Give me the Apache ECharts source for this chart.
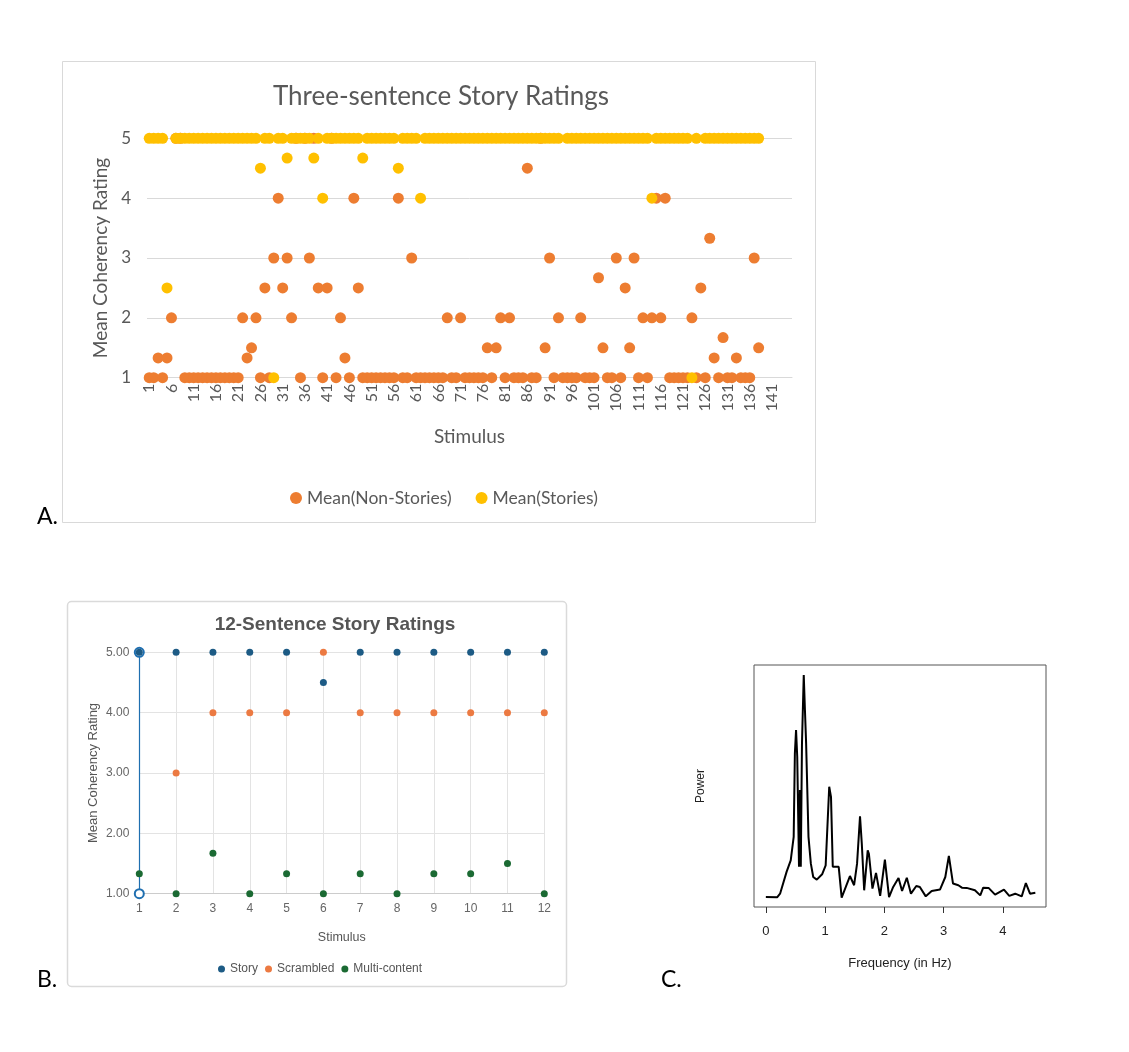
<!DOCTYPE html>
<html><head><meta charset="utf-8">
<script src="https://cdn.jsdelivr.net/npm/echarts@6/dist/echarts.min.js"></script>
<style>html,body{margin:0;padding:0;background:#fff}#c{width:1129px;height:1052px}</style>
</head><body><div id="c"></div>
<script>
// ---------- Panel A: Three-sentence story ratings (stimuli 1..138, axis 1..145) ----------
const stimulusCountA = 145;
const nonStories = [
  1,1,1.33,1,1.33,2,5,5,1,1,
  1,1,1,1,1,1,1,1,1,1,
  1,2,1.33,1.5,2,1,2.5,1,3,4,
  2.5,3,2,5,1,5,3,5,2.5,1,
  2.5,5,1,2,1.33,1,4,2.5,1,1,
  1,1,1,1,1,1,4,1,1,3,
  1,1,1,1,1,1,1,2,1,1,
  2,1,1,1,1,1,1.5,1,1.5,2,
  1,2,1,1,1,4.5,1,1,5,1.5,
  3,1,2,1,1,1,1,2,1,1,
  1,2.67,1.5,1,1,3,1,2.5,1.5,3,
  1,2,1,2,4,2,4,1,1,1,
  1,1,2,1,2.5,1,3.33,1.33,1,1.67,
  1,1,1.33,1,1,1,3,1.5
];
const stories = [
  5,5,5,5,2.5,'-',5,5,5,5,
  5,5,5,5,5,5,5,5,5,5,
  5,5,5,5,5,4.5,5,5,1,5,
  5,4.67,5,5,5,5,5,4.67,5,4,
  5,5,5,5,5,5,5,5,4.67,5,
  5,5,5,5,5,5,4.5,5,5,5,
  5,4,5,5,5,5,5,5,5,5,
  5,5,5,5,5,5,5,5,5,5,
  5,5,5,5,5,5,5,5,5,5,
  5,5,5,'-',5,5,5,5,5,5,
  5,5,5,5,5,5,5,5,5,5,
  5,5,5,4,5,5,5,5,5,5,
  5,5,1,5,'-',5,5,5,5,5,
  5,5,5,5,5,5,5,5
];
const categoriesA = Array.from({length: stimulusCountA}, (_, i) => String(i + 1));

// ---------- Panel B: 12-sentence story ratings ----------
const categoriesB = ['1','2','3','4','5','6','7','8','9','10','11','12'];
const storyB = [5,5,5,5,5,4.5,5,5,5,5,5,5];
const scrambledB = ['-',3,4,4,4,5,4,4,4,4,4,4];
const multiB = [1.33,1,1.67,1,1.33,1,1.33,1,1.33,1.33,1.5,1];

// ---------- Panel C: power spectrum ----------
const freqC = [0.00,0.19,0.24,0.35,0.42,0.47,0.49,0.51,0.53,0.56,0.575,0.59,0.61,0.64,0.66,0.68,0.72,0.76,0.80,0.86,0.95,1.01,1.07,1.10,1.13,1.23,1.28,1.35,1.42,1.49,1.54,1.59,1.62,1.66,1.72,1.74,1.80,1.86,1.93,2.01,2.08,2.15,2.24,2.30,2.38,2.45,2.54,2.60,2.70,2.80,2.94,3.03,3.09,3.16,3.25,3.31,3.39,3.53,3.62,3.67,3.76,3.87,4.02,4.11,4.21,4.32,4.39,4.46,4.55];
const powerC = [4.1,4.0,5.5,14.5,19.3,29.0,63.4,73.1,62.1,16.6,48.3,16.6,67.6,95.9,81.4,67.6,29.0,17.9,12.4,11.3,13.5,17.2,49.7,45.5,16.6,16.6,3.9,8.3,12.8,9.0,17.9,37.5,26.2,6.9,23.4,22.0,7.6,14.1,4.6,19.6,4.1,8.3,12.0,6.6,12.1,5.5,8.7,8.3,4.4,6.6,7.2,12.4,21.1,9.7,9.0,8.0,7.9,6.9,4.8,8.0,7.9,5.1,7.2,4.6,5.5,4.4,9.9,5.5,5.9];
const freqTicksC = [0,1,2,3,4];

const FA = 'Lato, "Open Sans", sans-serif';
const FB = '"Liberation Sans", Arial, sans-serif';

const chart = echarts.init(document.getElementById('c'));
const option = {
  animation: false,
  backgroundColor: '#ffffff',
  textStyle: {fontFamily: FB},
  graphic: [
    {type:'rect', z:-1, shape:{x:62.5,y:61.5,width:753,height:461}, style:{fill:'none', stroke:'#d9d9d9', lineWidth:1}},
    {type:'rect', z:-1, shape:{x:67.5,y:601.5,width:499,height:385,r:4}, style:{fill:'none', stroke:'#dadada', lineWidth:1.5}},
    {type:'text', style:{text:'Three-sentence Story Ratings', x:441, y:97, align:'center', verticalAlign:'middle', font:'26px Lato', fill:'#595959'}},
    {type:'text', style:{text:'12-Sentence Story Ratings', x:335, y:625, align:'center', verticalAlign:'middle', font:'bold 19px "Liberation Sans"', fill:'#555555'}},
    {type:'text', style:{text:'A.', x:37, y:517, align:'left', verticalAlign:'middle', font:'23px Lato', fill:'#000'}},
    {type:'text', style:{text:'B.', x:37, y:980, align:'left', verticalAlign:'middle', font:'23px Lato', fill:'#000'}},
    {type:'text', style:{text:'C.', x:661, y:980, align:'left', verticalAlign:'middle', font:'23px Lato', fill:'#000'}}
  ],
  legend: [
    {data:['Mean(Non-Stories)','Mean(Stories)'], left:285, top:484, icon:'circle', itemWidth:12, itemHeight:12, itemGap:24,
     textStyle:{fontSize:17.5, color:'#595959', fontFamily:FA}},
    {data:['Story','Scrambled','Multi-content'], left:213, top:958, icon:'circle', itemWidth:7, itemHeight:7, itemGap:7,
     textStyle:{fontSize:12, color:'#555', fontFamily:FB}}
  ],
  grid: [
    {left:147, top:138.3, width:645, height:239.4, outerBoundsMode:'none'},
    {left:139.3, top:652.3, width:405, height:241.4, outerBoundsMode:'none'},
    {left:754, top:665, width:292, height:242, show:true, borderColor:'#555', borderWidth:1, backgroundColor:'transparent', outerBoundsMode:'none'}
  ],
  xAxis: [
    {gridIndex:0, type:'category', data:categoriesA, boundaryGap:true,
     axisLine:{lineStyle:{color:'#d9d9d9'}}, axisTick:{show:false},
     axisLabel:{interval:4, rotate:90, fontSize:16, color:'#595959', fontFamily:FA, margin:6},
     splitLine:{show:false},
     name:'Stimulus', nameLocation:'middle', nameGap:50, nameTextStyle:{fontSize:19, color:'#595959', fontFamily:FA}},
    {gridIndex:1, type:'category', data:categoriesB, boundaryGap:false,
     axisLine:{lineStyle:{color:'#cccccc'}}, axisTick:{show:false},
     axisLabel:{fontSize:12, color:'#666', fontFamily:FB, margin:9},
     splitLine:{show:true, lineStyle:{color:'#e3e3e3'}},
     name:'Stimulus', nameLocation:'middle', nameGap:37, nameTextStyle:{fontSize:12.5, color:'#555', fontFamily:FB}},
    {gridIndex:2, type:'value', min:-0.2, max:4.73,
     axisLine:{show:false},
     axisTick:{show:true, length:6, customValues:freqTicksC, lineStyle:{color:'#333'}},
     axisLabel:{customValues:freqTicksC, fontSize:13, color:'#222', fontFamily:FB, margin:18},
     splitLine:{show:false},
     name:'Frequency (in Hz)', nameLocation:'middle', nameGap:50, nameTextStyle:{fontSize:13, color:'#222', fontFamily:FB}}
  ],
  yAxis: [
    {gridIndex:0, type:'value', min:1, max:5, interval:1,
     axisLine:{show:false}, axisTick:{show:false},
     axisLabel:{fontSize:17, color:'#595959', fontFamily:FA, margin:16},
     splitLine:{lineStyle:{color:'#d9d9d9'}},
     name:'Mean Coherency Rating', nameLocation:'middle', nameGap:36, nameTextStyle:{fontSize:19, color:'#595959', fontFamily:FA}},
    {gridIndex:1, type:'value', min:1, max:5, interval:1,
     axisLine:{show:true, lineStyle:{color:'#1f6fb0', width:1.2}, symbol:['emptyCircle','emptyCircle'], symbolSize:[9,9]},
     axisTick:{show:false},
     axisLabel:{formatter:(v)=>v.toFixed(2), fontSize:12, color:'#666', fontFamily:FB, margin:10},
     splitLine:{lineStyle:{color:'#e3e3e3'}},
     name:'Mean Coherency Rating', nameLocation:'middle', nameGap:39, nameTextStyle:{fontSize:13, color:'#555', fontFamily:FB}},
    {gridIndex:2, type:'value', min:0, max:100,
     axisLine:{show:false}, axisTick:{show:false}, axisLabel:{show:false}, splitLine:{show:false},
     name:'Power', nameLocation:'middle', nameGap:47, nameTextStyle:{fontSize:12, color:'#222', fontFamily:FB}}
  ],
  series: [
    {name:'Mean(Non-Stories)', type:'scatter', xAxisIndex:0, yAxisIndex:0, data:nonStories, symbolSize:11, itemStyle:{color:'#ED7D31', opacity:1}},
    {name:'Mean(Stories)', type:'scatter', xAxisIndex:0, yAxisIndex:0, data:stories, symbolSize:11, itemStyle:{color:'#FFC000', opacity:1}},
    {name:'Story', type:'scatter', xAxisIndex:1, yAxisIndex:1, data:storyB, symbolSize:7, itemStyle:{color:'#1d5b85', opacity:1}},
    {name:'Scrambled', type:'scatter', xAxisIndex:1, yAxisIndex:1, data:scrambledB, symbolSize:7, itemStyle:{color:'#ec7a42', opacity:1}},
    {name:'Multi-content', type:'scatter', xAxisIndex:1, yAxisIndex:1, data:multiB, symbolSize:7, itemStyle:{color:'#1b6a33', opacity:1}},
    {name:'Power', type:'line', xAxisIndex:2, yAxisIndex:2, data:freqC.map((f,i)=>[f, powerC[i]]),
     showSymbol:false, symbol:'none', lineStyle:{color:'#000', width:2}}
  ]
};
chart.setOption(option);
</script></body></html>
